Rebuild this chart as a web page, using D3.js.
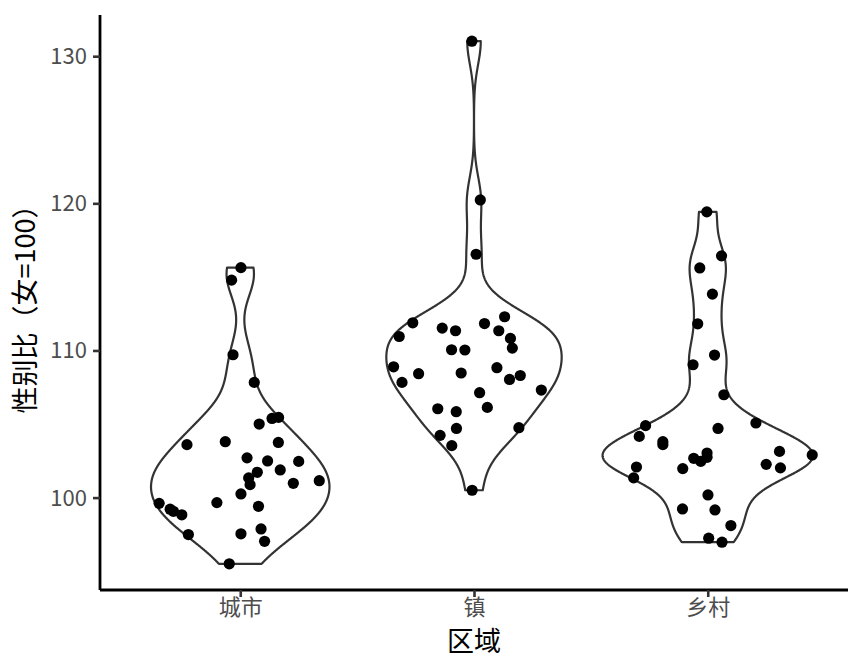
<!DOCTYPE html>
<html>
<head>
<meta charset="utf-8">
<script src="https://cdn.jsdelivr.net/npm/d3@7"></script>
<style>
  body { margin: 0; background: #fff; }
  text { font-family: "Noto Sans CJK SC", "Noto Sans", sans-serif; }
</style>
</head>
<body>
<div id="chart"></div>
<script>
// categories
const regions = ["城市", "镇", "乡村"];

// sex ratio values per region
const cityValues = [115.63, 114.78, 109.71, 107.83, 103.60, 103.80, 105.00, 105.38, 105.45, 103.75,
    102.70, 102.49, 102.46, 101.88, 101.72, 101.34, 100.88, 100.97, 101.15, 100.25,
    99.66, 99.41, 99.61, 99.21, 99.07, 98.83, 97.49, 97.54, 97.87, 97.03, 95.50];
const townValues = [131.02, 120.23, 116.54, 111.88, 110.95, 111.52, 111.34, 111.83, 112.29, 111.34,
    110.82, 110.16, 110.05, 110.03, 108.89, 108.42, 108.47, 108.83, 108.03, 108.30,
    107.83, 107.31, 107.13, 106.13, 106.04, 105.84, 104.70, 104.23, 104.75, 103.53, 100.50];
const ruralValues = [119.42, 116.43, 115.61, 113.83, 111.81, 109.69, 109.03, 106.99, 104.89, 104.16,
    104.70, 105.07, 103.80, 103.60, 103.03, 102.67, 102.74, 102.46, 101.97, 102.08,
    101.34, 103.14, 102.90, 102.26, 102.02, 100.18, 99.23, 99.16, 98.10, 97.24, 96.97];

// horizontal jitter of each point, in category units
const cityJitter = [0.003, -0.037, -0.031, 0.060, -0.228, -0.064, 0.081, 0.136, 0.164, 0.163,
    0.029, 0.117, 0.250, 0.171, 0.073, 0.036, 0.042, 0.227, 0.338, 0.003,
    -0.100, 0.078, -0.347, -0.300, -0.286, -0.250, -0.222, 0.003, 0.089, 0.104, -0.047];
const townJitter = [-0.009, 0.027, 0.009, -0.262, -0.320, -0.136, -0.079, 0.045, 0.131, 0.106,
    0.156, 0.164, -0.096, -0.039, -0.344, -0.237, -0.055, 0.098, 0.152, 0.198,
    -0.308, 0.288, 0.024, 0.057, -0.155, -0.076, -0.075, -0.145, 0.192, -0.095, -0.008];
const ruralJitter = [-0.004, 0.059, -0.034, 0.020, -0.043, 0.029, -0.063, 0.069, -0.266, -0.293,
    0.044, 0.206, -0.192, -0.192, -0.003, -0.060, -0.003, -0.030, -0.107, -0.305,
    -0.317, 0.307, 0.447, 0.250, 0.311, 0.001, -0.108, 0.031, 0.099, 0.004, 0.061];

const yTicks = [100, 110, 120, 130];

const groups = [
    { name: regions[0], values: cityValues, jitter: cityJitter },
    { name: regions[1], values: townValues, jitter: townJitter },
    { name: regions[2], values: ruralValues, jitter: ruralJitter }
];

// svg area
const svgWidth = 864;
const svgHeight = 672;
const margin = { top: 15, right: 16, bottom: 82, left: 100 };
const chartWidth = svgWidth - margin.left - margin.right;
const chartHeight = svgHeight - margin.top - margin.bottom;

const svg = d3.select('#chart')
    .append('svg')
    .attr('width', svgWidth)
    .attr('height', svgHeight);

const chartGroup = svg.append('g')
    .attr('transform', `translate(${margin.left}, ${margin.top})`);

// scales (discrete positions 1..3 with 0.6 expansion on each side)
const xScale = d3.scaleLinear()
    .domain([0.4, regions.length + 0.6])
    .range([0, chartWidth]);

const yScale = d3.scaleLinear()
    .domain([93.72, 132.8])
    .range([chartHeight, 0]);

// kernel density like R's density() with bw.nrd0, trimmed to data range
function density(values) {
    const sorted = values.slice().sort(d3.ascending);
    const n = sorted.length;
    const sd = d3.deviation(sorted);
    const iqr = d3.quantileSorted(sorted, 0.75) - d3.quantileSorted(sorted, 0.25);
    const bw = 0.9 * Math.min(sd, iqr / 1.34) * Math.pow(n, -0.2);
    const lo = sorted[0], hi = sorted[n - 1];
    const grid = d3.range(512).map(i => lo + (hi - lo) * i / 511);
    return grid.map(y => {
        const dens = d3.sum(sorted, v => Math.exp(-0.5 * ((y - v) / bw) ** 2)) / (n * bw * Math.sqrt(2 * Math.PI));
        return { y: y, d: dens };
    });
}

groups.forEach(g => { g.dens = density(g.values); });
const maxDens = d3.max(groups, g => d3.max(g.dens, p => p.d));

// violins
groups.forEach((g, i) => {
    const cx = i + 1;
    const right = g.dens.map(p => [xScale(cx + 0.45 * p.d / maxDens), yScale(p.y)]);
    const left = g.dens.slice().reverse().map(p => [xScale(cx - 0.45 * p.d / maxDens), yScale(p.y)]);
    chartGroup.append('path')
        .attr('d', d3.line()(right.concat(left)) + 'Z')
        .attr('fill', '#ffffff')
        .attr('stroke', '#333333')
        .attr('stroke-width', 2.2)
        .attr('stroke-linejoin', 'round');
});

// jittered points
groups.forEach((g, i) => {
    chartGroup.selectAll(null)
        .data(g.values)
        .enter()
        .append('circle')
        .attr('cx', (d, j) => xScale(i + 1 + g.jitter[j]))
        .attr('cy', d => yScale(d))
        .attr('r', 5.6)
        .attr('fill', '#000000');
});

// axes
const yAxis = d3.axisLeft(yScale).tickValues(yTicks).tickSize(7).tickPadding(6);
const xAxis = d3.axisBottom(xScale).tickValues([1, 2, 3])
    .tickFormat(d => regions[d - 1]).tickSize(7).tickPadding(2);

const yG = chartGroup.append('g').call(yAxis);
const xG = chartGroup.append('g')
    .attr('transform', `translate(0, ${chartHeight})`)
    .call(xAxis);

[yG, xG].forEach(a => {
    a.select('.domain').attr('stroke', '#000000').attr('stroke-width', 2.8);
    a.selectAll('.tick line').attr('stroke', '#333333').attr('stroke-width', 2.6);
    a.selectAll('.tick text').attr('fill', '#4d4d4d').style('font-size', '22px');
});
// plain axis lines without end ticks
yG.select('.domain').attr('d', `M0,0V${chartHeight}`);
xG.select('.domain').attr('d', `M0,0H${chartWidth}`);
yG.selectAll('.tick text').attr('dy', '0.34em');

// axis titles
svg.append('text')
    .text('区域')
    .attr('x', margin.left + chartWidth / 2)
    .attr('y', 651)
    .attr('text-anchor', 'middle')
    .style('font-size', '27px')
    .attr('fill', '#000');

svg.append('text')
    .text('性别比（女=100）')
    .attr('text-anchor', 'middle')
    .attr('transform', `translate(35, ${margin.top + chartHeight / 2}) rotate(-90)`)
    .style('font-size', '27px')
    .attr('fill', '#000');
</script>
</body>
</html>
